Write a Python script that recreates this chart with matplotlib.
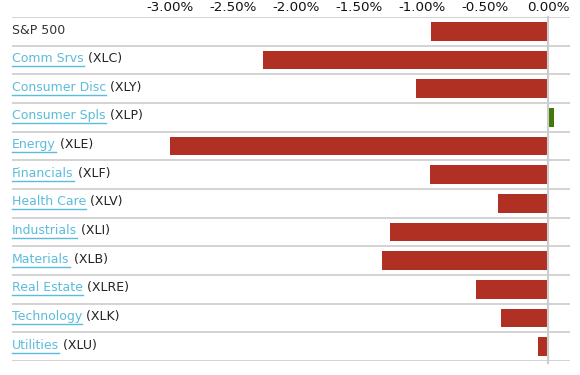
import matplotlib
matplotlib.use("Agg")
import matplotlib.pyplot as plt
from matplotlib.transforms import blended_transform_factory
from matplotlib.lines import Line2D

sectors = ["S&P 500", "Comm Srvs", "Consumer Disc", "Consumer Spls", "Energy",
           "Financials", "Health Care", "Industrials", "Materials", "Real Estate",
           "Technology", "Utilities"]
tickers = ["", "(XLC)", "(XLY)", "(XLP)", "(XLE)", "(XLF)", "(XLV)", "(XLI)",
           "(XLB)", "(XLRE)", "(XLK)", "(XLU)"]
changes = [-0.93, -2.26, -1.05, 0.05, -3.00, -0.94, -0.40, -1.25, -1.32, -0.57, -0.37, -0.08]
xticks = [-3.0, -2.5, -2.0, -1.5, -1.0, -0.5, 0.0]

W, H = 580, 375
fig = plt.figure(figsize=(W / 100, H / 100), dpi=100)
ax = fig.add_axes([12 / W, 1 - 361 / H, (570 - 12) / W, (361 - 17) / H])

RED = "#b03024"
GREEN = "#427a05"
LINK = "#5bbcdc"
DARK = "#222222"
GRID = "#cccccc"
FS = 9.0

n = len(sectors)
ypos = list(range(n))
colors = [GREEN if v > 0 else RED for v in changes]
ax.barh(ypos, changes, height=0.66, color=colors, zorder=2)

ax.set_ylim(n - 0.5, -0.5)
ax.set_xlim(-4.254, 0.175)

for i in range(-1, n):
    ax.axhline(i + 0.5, color=GRID, lw=1.2, zorder=1)
ax.plot([0, 0], [-0.5, n - 0.42], color=GRID, lw=1.5, zorder=3, clip_on=False)

for s in ax.spines.values():
    s.set_visible(False)
ax.set_yticks([])
ax.xaxis.tick_top()
ax.set_xticks(xticks)
ax.set_xticklabels([f"{v:.2f}%" for v in xticks], fontsize=9.6, color="#111111")
ax.tick_params(axis="x", length=0, pad=2)

trans = blended_transform_factory(ax.transAxes, ax.transData)
renderer = fig.canvas.get_renderer()
for i, (name, tk) in enumerate(zip(sectors, tickers)):
    if tk == "":
        ax.text(0, i - 0.03, name, transform=trans, fontsize=FS, color="#333333",
                va="center", ha="left", zorder=4)
        continue
    t = ax.text(0, i - 0.05, name, transform=trans, fontsize=FS, color=LINK,
                va="center", ha="left", zorder=4)
    bb = t.get_window_extent(renderer=renderer)
    x0, x1 = bb.x0, bb.x1
    yline = bb.y0 - 1.0
    fig.add_artist(Line2D([x0 / W, x1 / W], [yline / H, yline / H],
                          transform=fig.transFigure, color=LINK, lw=1.0))
    ax.annotate(" " + tk, xy=(1, 0), xycoords=t, va="bottom", ha="left",
                fontsize=FS, color=DARK, zorder=4)

fig.savefig("out.png", dpi=100)
